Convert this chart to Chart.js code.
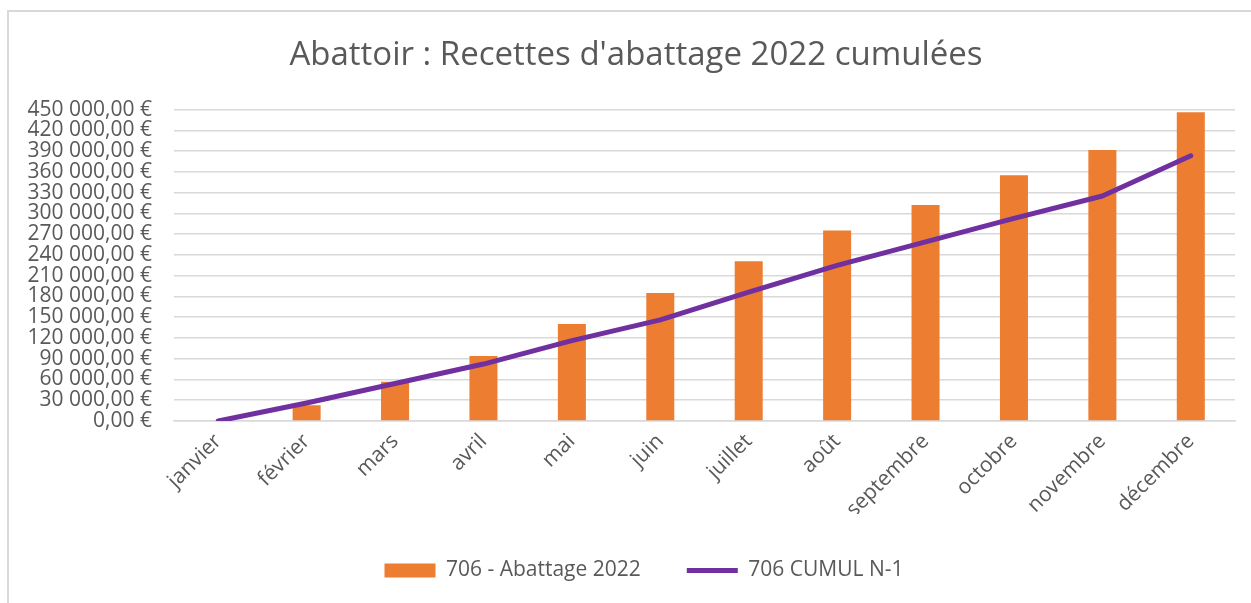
<!DOCTYPE html>
<html>
<head>
<meta charset="utf-8">
<script src="https://cdn.jsdelivr.net/npm/chart.js@4.4.0/dist/chart.umd.min.js"></script>
<style>
  html, body { margin: 0; padding: 0; background: #fff; overflow: hidden; }
  #frame {
    position: absolute; left: 7px; top: 10px; right: 0; bottom: 0;
    border-left: 2px solid #d9d9d9; border-top: 2px solid #d9d9d9;
  }
  #wrap { position: absolute; left: 0; top: 0; right: 0; bottom: 0; }
</style>
</head>
<body>
<div id="frame"><div id="wrap"><canvas id="abattage-chart"></canvas></div></div>
<script>
// Données
const mois = ['janvier', 'février', 'mars', 'avril', 'mai', 'juin', 'juillet', 'août', 'septembre', 'octobre', 'novembre', 'décembre'];
const abattage2022 = [0, 22800, 56600, 94000, 140300, 184800, 230800, 275300, 312100, 355200, 391500, 446100];
const cumulN1 = [0, 26000, 54200, 82300, 116100, 146100, 186300, 225000, 258800, 292800, 325200, 383200];
const yMax = 450000;
const yStep = 30000;

const gris = '#595959';
const police = "'Open Sans', sans-serif";

// Format "450 000,00 €"
function formatEuro(v) {
    const parts = Math.round(v).toString().replace(/\B(?=(\d{3})+(?!\d))/g, ' ');
    return parts + ',00 €';
}

// Décale titre et légende vers la droite, comme dans Excel
const decalage = {
    id: 'decalage',
    afterLayout(chart) {
        chart.titleBlock.left += 14;
        chart.titleBlock.right += 14;
        chart.legend.left += 22;
        chart.legend.right += 22;
    }
};

const ctx = document.getElementById('abattage-chart').getContext('2d');

new Chart(ctx, {
    type: 'bar',
    data: {
        labels: mois,
        datasets: [{
            type: 'bar',
            label: '706 - Abattage 2022',
            data: abattage2022,
            backgroundColor: '#ED7D31',
            borderWidth: 0,
            categoryPercentage: 0.8,
            barPercentage: 0.396,
            pointStyle: 'rect',
            order: 1
        }, {
            type: 'line',
            label: '706 CUMUL N-1',
            data: cumulN1,
            borderColor: '#7030A0',
            backgroundColor: '#7030A0',
            borderWidth: 5,
            borderCapStyle: 'round',
            borderJoinStyle: 'round',
            pointRadius: 0,
            pointStyle: 'line',
            tension: 0,
            order: 0
        }]
    },
    plugins: [decalage],
    options: {
        responsive: true,
        maintainAspectRatio: false,
        animation: false,
        layout: {
            padding: { top: 0, right: 16, bottom: 12, left: 0 }
        },
        plugins: {
            title: {
                display: true,
                text: "Abattoir : Recettes d'abattage 2022 cumulées",
                color: gris,
                font: { family: police, size: 33, weight: 'normal' },
                padding: { top: 24, bottom: 34 }
            },
            legend: {
                position: 'bottom',
                labels: {
                    color: gris,
                    font: { family: police, size: 21 },
                    usePointStyle: true,
                    pointStyleWidth: 51,
                    boxHeight: 14,
                    padding: 46,
                    sort: (a, b) => a.datasetIndex - b.datasetIndex
                }
            },
            tooltip: { enabled: false }
        },
        scales: {
            x: {
                grid: { display: false, drawTicks: false },
                border: { color: '#d9d9d9', width: 1.5 },
                ticks: {
                    color: gris,
                    font: { family: police, size: 21 },
                    maxRotation: 45,
                    minRotation: 45,
                    padding: 8
                },
                afterFit: function (scale) { scale.height = 93; }
            },
            y: {
                min: 0,
                max: yMax,
                grid: { color: '#d9d9d9', lineWidth: 1.5, drawTicks: false },
                border: { display: false },
                ticks: {
                    stepSize: yStep,
                    autoSkip: false,
                    color: gris,
                    font: { family: police, size: 21 },
                    padding: 22,
                    callback: value => formatEuro(value)
                },
                afterFit: function (scale) { scale.width = 165; }
            }
        }
    }
});
</script>
</body>
</html>
